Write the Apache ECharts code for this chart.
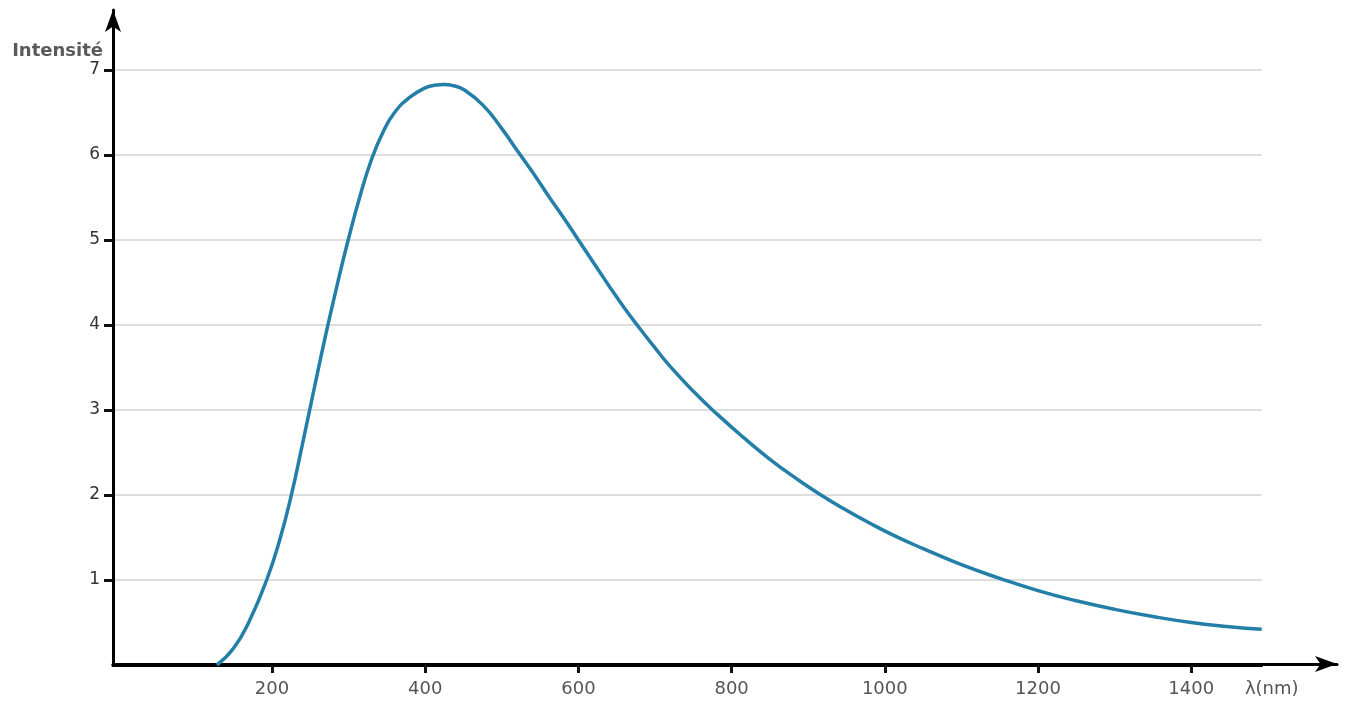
<!DOCTYPE html>
<html>
<head>
<meta charset="utf-8">
<script src="https://cdn.jsdelivr.net/npm/echarts@6/dist/echarts.min.js"></script>
<style>
html,body{margin:0;padding:0;background:#ffffff;}
#c{width:1347px;height:702px;}
</style>
</head>
<body>
<div id="c"></div>
<script>
// wavelength (nm) and intensity
const wavelength = [128, 150, 170, 193, 210, 225, 240, 255, 270, 285, 300, 315, 330, 345, 360, 380, 400, 412, 425, 437, 450, 475, 500, 521, 540, 560, 580, 600, 620, 640, 660, 680, 700, 720, 750, 780, 815, 850, 885, 915, 950, 980, 1015, 1050, 1100, 1150, 1200, 1250, 1300, 1350, 1400, 1450, 1492];
const intensity  = [0, 0.2, 0.51, 1.0, 1.47, 1.99, 2.61, 3.25, 3.88, 4.47, 5.02, 5.52, 5.95, 6.27, 6.5, 6.68, 6.79, 6.82, 6.83, 6.815, 6.77, 6.59, 6.31, 6.04, 5.8, 5.53, 5.27, 5.0, 4.73, 4.46, 4.2, 3.96, 3.73, 3.51, 3.22, 2.96, 2.68, 2.42, 2.19, 2.01, 1.82, 1.67, 1.51, 1.37, 1.18, 1.02, 0.875, 0.755, 0.655, 0.57, 0.5, 0.45, 0.42];
const xTickValues = [200, 400, 600, 800, 1000, 1200, 1400];
const yTickValues = [1, 2, 3, 4, 5, 6, 7];
const xName = 'λ(nm)';
const yName = 'Intensité';

const fontFamily = 'DejaVu Sans';
const chart = echarts.init(document.getElementById('c'), null, {renderer: 'canvas'});

const seriesData = wavelength.map((w, i) => [w, intensity[i]]);
const plain = v => String(v);

const option = {
  animation: false,
  backgroundColor: '#ffffff',
  grid: [
    {left: 113, right: 85.3, top: 70, bottom: 37},   // data, labels
    {left: 113, right: 10, top: 10, bottom: 38},     // axis lines with arrows
    {left: 113, right: 85.3, top: 70, bottom: 37}    // grid lines and x ticks
  ],
  xAxis: [
    {
      gridIndex: 0, type: 'value', min: -7.6, max: 1492, position: 'bottom',
      axisLine: {show: true, onZero: false, lineStyle: {color: '#000', width: 3}},
      splitLine: {show: false},
      axisTick: {show: true, inside: false, customValues: xTickValues, length: 8, lineStyle: {color: '#111', width: 3}},
      axisLabel: {customValues: xTickValues, formatter: plain, margin: 15, fontSize: 18, color: '#555', fontFamily: fontFamily},
      name: xName, nameLocation: 'end', nameGap: 10,
      nameTextStyle: {align: 'center', verticalAlign: 'top', padding: [15, 0, 0, 0], fontSize: 18, color: '#555', fontFamily: fontFamily}
    },
    {
      gridIndex: 1, type: 'value', min: 0, max: 1,
      axisLine: {show: true, onZero: false, lineStyle: {color: '#000', width: 3}, symbol: ['none', 'arrow'], symbolSize: [12, 22]},
      axisTick: {show: false}, axisLabel: {show: false}, splitLine: {show: false}
    },
    {
      gridIndex: 2, type: 'value', min: -7.6, max: 1492, position: 'bottom',
      axisLine: {show: false, onZero: false},
      axisTick: {show: true, inside: false, customValues: xTickValues, length: 8, lineStyle: {color: '#111', width: 3}},
      axisLabel: {show: false}, splitLine: {show: false}
    }
  ],
  yAxis: [
    {
      gridIndex: 0, type: 'value', min: 0, max: 7, interval: 1,
      axisLine: {show: true, onZero: false, lineStyle: {color: '#000', width: 3}},
      splitLine: {show: false},
      axisTick: {show: true, customValues: yTickValues, length: 9, lineStyle: {color: '#111', width: 3}},
      axisLabel: {customValues: yTickValues, formatter: plain, margin: 13, fontSize: 17, color: '#333', fontFamily: fontFamily},
      name: yName, nameLocation: 'end', nameGap: 10,
      nameTextStyle: {align: 'right', verticalAlign: 'bottom', padding: [0, 10, 0, 0], fontSize: 18, fontWeight: 'bold', color: '#5a5a5a', fontFamily: fontFamily}
    },
    {
      gridIndex: 1, type: 'value', min: 0, max: 1,
      axisLine: {show: true, onZero: false, lineStyle: {color: '#000', width: 3}, symbol: ['none', 'arrow'], symbolSize: [12, 22]},
      axisTick: {show: false}, axisLabel: {show: false}, splitLine: {show: false}
    },
    {
      gridIndex: 2, type: 'value', min: 0, max: 7, interval: 1,
      axisLine: {show: false}, axisTick: {show: false}, axisLabel: {show: false},
      splitLine: {show: true, lineStyle: {color: '#d2d2d2', width: 1.5}}
    }
  ],
  series: [
    {
      type: 'line', xAxisIndex: 0, yAxisIndex: 0,
      data: seriesData,
      showSymbol: false, symbol: 'none',
      smooth: 0.5,
      lineStyle: {color: '#237fa8', width: 3.5},
      z: 5
    }
  ]
};
chart.setOption(option);
</script>
</body>
</html>
